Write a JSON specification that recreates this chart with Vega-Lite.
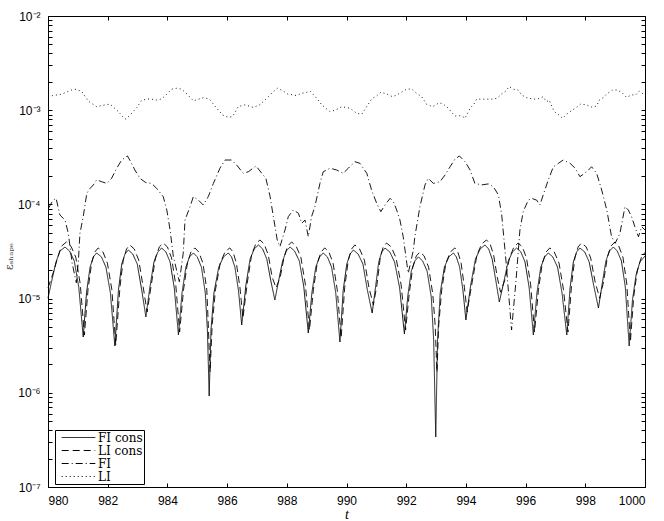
{
  "$schema": "https://vega.github.io/schema/vega-lite/v6.json",
  "width": 597,
  "height": 471,
  "autosize": {"type": "none"},
  "padding": {"left": 48, "top": 16, "right": 19, "bottom": 34},
  "background": "white",
  "config": {
    "view": {"stroke": null},
    "axis": {
      "domainColor": "black", "domainWidth": 1, "tickColor": "black", "tickWidth": 1,
      "grid": false, "labelFont": "Liberation Sans", "labelFontSize": 12, "labelColor": "black",
      "tickSize": -4
    }
  },
  "datasets": {
    "ficons": [
      {"t":980.0,"v":1.01e-5},{"t":980.13,"v":1.57e-5},{"t":980.27,"v":2.45e-5},{"t":980.40,"v":3.20e-5},{"t":980.57,"v":3.53e-5},{"t":980.72,"v":3.20e-5},{"t":980.88,"v":2.51e-5},{"t":981.03,"v":1.33e-5},{"t":981.18,"v":3.91e-6},{"t":981.29,"v":1.15e-5},{"t":981.41,"v":2.16e-5},{"t":981.52,"v":2.77e-5},{"t":981.63,"v":3.05e-5},{"t":981.79,"v":2.77e-5},{"t":981.94,"v":2.16e-5},{"t":982.09,"v":1.15e-5},{"t":982.24,"v":3.14e-6},{"t":982.36,"v":1.23e-5},{"t":982.47,"v":2.33e-5},{"t":982.58,"v":2.97e-5},{"t":982.69,"v":3.28e-5},{"t":982.84,"v":2.97e-5},{"t":982.99,"v":2.33e-5},{"t":983.14,"v":1.23e-5},{"t":983.28,"v":6.38e-6},{"t":983.41,"v":1.30e-5},{"t":983.55,"v":2.45e-5},{"t":983.68,"v":3.13e-5},{"t":983.81,"v":3.44e-5},{"t":983.95,"v":3.13e-5},{"t":984.09,"v":2.45e-5},{"t":984.23,"v":1.30e-5},{"t":984.37,"v":4.11e-6},{"t":984.49,"v":1.15e-5},{"t":984.62,"v":2.16e-5},{"t":984.74,"v":2.77e-5},{"t":984.87,"v":3.05e-5},{"t":985.00,"v":2.77e-5},{"t":985.14,"v":2.16e-5},{"t":985.27,"v":1.15e-5},{"t":985.34,"v":4.64e-6},{"t":985.40,"v":9.25e-7},{"t":985.46,"v":4.64e-6},{"t":985.56,"v":1.15e-5},{"t":985.72,"v":2.16e-5},{"t":985.88,"v":2.77e-5},{"t":986.04,"v":3.05e-5},{"t":986.15,"v":2.77e-5},{"t":986.26,"v":2.16e-5},{"t":986.38,"v":1.23e-5},{"t":986.49,"v":5.25e-6},{"t":986.63,"v":1.39e-5},{"t":986.77,"v":2.63e-5},{"t":986.91,"v":3.37e-5},{"t":987.05,"v":3.71e-5},{"t":987.19,"v":3.37e-5},{"t":987.33,"v":2.63e-5},{"t":987.46,"v":1.57e-5},{"t":987.60,"v":9.66e-6},{"t":987.73,"v":1.57e-5},{"t":987.86,"v":2.51e-5},{"t":987.98,"v":3.20e-5},{"t":988.11,"v":3.53e-5},{"t":988.26,"v":3.20e-5},{"t":988.42,"v":2.51e-5},{"t":988.57,"v":1.33e-5},{"t":988.72,"v":4.32e-6},{"t":988.84,"v":1.15e-5},{"t":988.97,"v":2.16e-5},{"t":989.10,"v":2.77e-5},{"t":989.22,"v":3.05e-5},{"t":989.36,"v":2.77e-5},{"t":989.50,"v":2.16e-5},{"t":989.64,"v":1.15e-5},{"t":989.78,"v":3.46e-6},{"t":989.89,"v":1.23e-5},{"t":990.01,"v":2.33e-5},{"t":990.12,"v":2.97e-5},{"t":990.23,"v":3.28e-5},{"t":990.39,"v":2.97e-5},{"t":990.55,"v":2.33e-5},{"t":990.70,"v":1.23e-5},{"t":990.86,"v":7.03e-6},{"t":990.97,"v":1.30e-5},{"t":991.08,"v":2.45e-5},{"t":991.18,"v":3.13e-5},{"t":991.29,"v":3.44e-5},{"t":991.45,"v":3.13e-5},{"t":991.61,"v":2.45e-5},{"t":991.78,"v":1.30e-5},{"t":991.94,"v":4.21e-6},{"t":992.05,"v":1.04e-5},{"t":992.17,"v":1.96e-5},{"t":992.29,"v":2.51e-5},{"t":992.41,"v":2.77e-5},{"t":992.55,"v":2.51e-5},{"t":992.70,"v":1.96e-5},{"t":992.84,"v":1.04e-5},{"t":992.92,"v":3.64e-6},{"t":992.99,"v":3.40e-7},{"t":993.05,"v":3.64e-6},{"t":993.14,"v":1.15e-5},{"t":993.28,"v":2.16e-5},{"t":993.43,"v":2.77e-5},{"t":993.58,"v":3.05e-5},{"t":993.68,"v":2.77e-5},{"t":993.79,"v":2.16e-5},{"t":993.90,"v":1.23e-5},{"t":994.00,"v":5.93e-6},{"t":994.16,"v":1.39e-5},{"t":994.32,"v":2.63e-5},{"t":994.48,"v":3.37e-5},{"t":994.64,"v":3.71e-5},{"t":994.76,"v":3.37e-5},{"t":994.88,"v":2.63e-5},{"t":995.00,"v":1.57e-5},{"t":995.12,"v":9.20e-6},{"t":995.27,"v":1.50e-5},{"t":995.41,"v":2.45e-5},{"t":995.56,"v":3.13e-5},{"t":995.70,"v":3.44e-5},{"t":995.84,"v":3.13e-5},{"t":995.98,"v":2.45e-5},{"t":996.12,"v":1.30e-5},{"t":996.26,"v":4.11e-6},{"t":996.38,"v":1.15e-5},{"t":996.51,"v":2.16e-5},{"t":996.64,"v":2.77e-5},{"t":996.76,"v":3.05e-5},{"t":996.91,"v":2.77e-5},{"t":997.07,"v":2.16e-5},{"t":997.22,"v":1.15e-5},{"t":997.38,"v":4.11e-6},{"t":997.49,"v":1.30e-5},{"t":997.60,"v":2.45e-5},{"t":997.71,"v":3.13e-5},{"t":997.82,"v":3.44e-5},{"t":997.98,"v":3.13e-5},{"t":998.13,"v":2.45e-5},{"t":998.28,"v":1.39e-5},{"t":998.44,"v":7.94e-6},{"t":998.56,"v":1.39e-5},{"t":998.69,"v":2.51e-5},{"t":998.81,"v":3.20e-5},{"t":998.94,"v":3.53e-5},{"t":999.07,"v":3.20e-5},{"t":999.21,"v":2.51e-5},{"t":999.34,"v":1.33e-5},{"t":999.47,"v":3.14e-6},{"t":999.58,"v":9.66e-6},{"t":999.70,"v":1.78e-5},{"t":999.83,"v":2.45e-5},{"t":1000.0,"v":2.83e-5}
    ],
    "licons": [
      {"t":980.0,"v":1.30e-5},{"t":980.18,"v":1.9e-5},{"t":980.32,"v":2.7e-5},{"t":980.45,"v":3.6e-5},{"t":980.62,"v":4.0e-5},{"t":980.77,"v":3.6e-5},{"t":980.93,"v":2.76e-5},{"t":981.08,"v":1.43e-5},{"t":981.22,"v":4.1e-6},{"t":981.34,"v":1.24e-5},{"t":981.46,"v":2.38e-5},{"t":981.57,"v":3.13e-5},{"t":981.68,"v":3.45e-5},{"t":981.84,"v":3.13e-5},{"t":981.99,"v":2.38e-5},{"t":982.14,"v":1.24e-5},{"t":982.27,"v":3.21e-6},{"t":982.41,"v":1.32e-5},{"t":982.52,"v":2.56e-5},{"t":982.63,"v":3.36e-5},{"t":982.74,"v":3.71e-5},{"t":982.89,"v":3.36e-5},{"t":983.04,"v":2.56e-5},{"t":983.19,"v":1.32e-5},{"t":983.32,"v":7.2e-6},{"t":983.46,"v":1.40e-5},{"t":983.60,"v":2.70e-5},{"t":983.73,"v":3.54e-5},{"t":983.86,"v":3.89e-5},{"t":984.00,"v":3.54e-5},{"t":984.14,"v":2.70e-5},{"t":984.28,"v":1.40e-5},{"t":984.41,"v":4.42e-6},{"t":984.54,"v":1.24e-5},{"t":984.67,"v":2.38e-5},{"t":984.79,"v":3.13e-5},{"t":984.92,"v":3.45e-5},{"t":985.05,"v":3.13e-5},{"t":985.19,"v":2.38e-5},{"t":985.32,"v":1.24e-5},{"t":985.37,"v":5.25e-6},{"t":985.43,"v":1.66e-6},{"t":985.50,"v":5.25e-6},{"t":985.61,"v":1.24e-5},{"t":985.77,"v":2.38e-5},{"t":985.93,"v":3.13e-5},{"t":986.09,"v":3.45e-5},{"t":986.20,"v":3.13e-5},{"t":986.31,"v":2.38e-5},{"t":986.43,"v":1.32e-5},{"t":986.53,"v":6.22e-6},{"t":986.68,"v":1.50e-5},{"t":986.82,"v":2.90e-5},{"t":986.96,"v":3.81e-5},{"t":987.10,"v":4.19e-5},{"t":987.24,"v":3.81e-5},{"t":987.38,"v":2.90e-5},{"t":987.51,"v":1.69e-5},{"t":987.64,"v":1.30e-5},{"t":987.78,"v":1.69e-5},{"t":987.91,"v":2.76e-5},{"t":988.03,"v":3.62e-5},{"t":988.16,"v":3.99e-5},{"t":988.31,"v":3.62e-5},{"t":988.47,"v":2.76e-5},{"t":988.62,"v":1.43e-5},{"t":988.76,"v":4.64e-6},{"t":988.89,"v":1.24e-5},{"t":989.02,"v":2.38e-5},{"t":989.15,"v":3.13e-5},{"t":989.27,"v":3.45e-5},{"t":989.41,"v":3.13e-5},{"t":989.55,"v":2.38e-5},{"t":989.69,"v":1.24e-5},{"t":989.82,"v":3.82e-6},{"t":989.94,"v":1.32e-5},{"t":990.06,"v":2.56e-5},{"t":990.17,"v":3.36e-5},{"t":990.28,"v":3.71e-5},{"t":990.44,"v":3.36e-5},{"t":990.60,"v":2.56e-5},{"t":990.75,"v":1.32e-5},{"t":990.90,"v":8.55e-6},{"t":991.02,"v":1.40e-5},{"t":991.13,"v":2.70e-5},{"t":991.23,"v":3.54e-5},{"t":991.34,"v":3.89e-5},{"t":991.50,"v":3.54e-5},{"t":991.66,"v":2.70e-5},{"t":991.83,"v":1.40e-5},{"t":991.98,"v":4.64e-6},{"t":992.10,"v":1.12e-5},{"t":992.22,"v":2.16e-5},{"t":992.34,"v":2.84e-5},{"t":992.46,"v":3.13e-5},{"t":992.60,"v":2.84e-5},{"t":992.75,"v":2.16e-5},{"t":992.89,"v":1.12e-5},{"t":992.97,"v":5.25e-6},{"t":993.03,"v":1.66e-6},{"t":993.09,"v":5.25e-6},{"t":993.19,"v":1.24e-5},{"t":993.33,"v":2.38e-5},{"t":993.48,"v":3.13e-5},{"t":993.63,"v":3.45e-5},{"t":993.73,"v":3.13e-5},{"t":993.84,"v":2.38e-5},{"t":993.95,"v":1.32e-5},{"t":994.04,"v":7.2e-6},{"t":994.21,"v":1.50e-5},{"t":994.37,"v":2.90e-5},{"t":994.53,"v":3.81e-5},{"t":994.69,"v":4.19e-5},{"t":994.81,"v":3.81e-5},{"t":994.93,"v":2.90e-5},{"t":995.05,"v":1.69e-5},{"t":995.16,"v":1.17e-5},{"t":995.32,"v":1.62e-5},{"t":995.46,"v":2.70e-5},{"t":995.61,"v":3.54e-5},{"t":995.75,"v":3.89e-5},{"t":995.89,"v":3.54e-5},{"t":996.03,"v":2.70e-5},{"t":996.17,"v":1.40e-5},{"t":996.30,"v":4.42e-6},{"t":996.43,"v":1.24e-5},{"t":996.56,"v":2.38e-5},{"t":996.69,"v":3.13e-5},{"t":996.81,"v":3.45e-5},{"t":996.96,"v":3.13e-5},{"t":997.12,"v":2.38e-5},{"t":997.27,"v":1.24e-5},{"t":997.42,"v":4.42e-6},{"t":997.54,"v":1.40e-5},{"t":997.65,"v":2.70e-5},{"t":997.76,"v":3.54e-5},{"t":997.87,"v":3.89e-5},{"t":998.03,"v":3.54e-5},{"t":998.18,"v":2.70e-5},{"t":998.33,"v":1.50e-5},{"t":998.48,"v":1.01e-5},{"t":998.61,"v":1.50e-5},{"t":998.74,"v":2.76e-5},{"t":998.86,"v":3.62e-5},{"t":998.99,"v":3.99e-5},{"t":999.12,"v":3.62e-5},{"t":999.26,"v":2.76e-5},{"t":999.39,"v":1.43e-5},{"t":999.51,"v":3.46e-6},{"t":999.62,"v":1.04e-5},{"t":999.74,"v":1.96e-5},{"t":999.87,"v":2.70e-5},{"t":1000.0,"v":3.1e-5}
    ],
    "fi": [
      {"t":980.02,"v":9.16e-5},{"t":980.17,"v":1.11e-4},{"t":980.27,"v":1.16e-4},{"t":980.40,"v":7.71e-5},{"t":980.57,"v":6.83e-5},{"t":980.68,"v":4.93e-5},{"t":980.81,"v":2.37e-5},{"t":980.95,"v":1.47e-5},{"t":981.02,"v":2.57e-5},{"t":981.07,"v":4.93e-5},{"t":981.18,"v":7.41e-5},{"t":981.30,"v":1.31e-4},{"t":981.41,"v":1.48e-4},{"t":981.52,"v":1.61e-4},{"t":981.63,"v":1.82e-4},{"t":981.80,"v":1.74e-4},{"t":981.97,"v":1.67e-4},{"t":982.13,"v":1.89e-4},{"t":982.30,"v":2.42e-4},{"t":982.47,"v":2.96e-4},{"t":982.66,"v":3.27e-4},{"t":982.77,"v":2.84e-4},{"t":982.91,"v":2.32e-4},{"t":983.08,"v":1.89e-4},{"t":983.28,"v":1.70e-4},{"t":983.47,"v":1.67e-4},{"t":983.64,"v":1.48e-4},{"t":983.86,"v":1.21e-4},{"t":983.98,"v":8.73e-5},{"t":984.09,"v":5.35e-5},{"t":984.20,"v":2.79e-5},{"t":984.40,"v":1.51e-5},{"t":984.53,"v":3.03e-5},{"t":984.59,"v":6.83e-5},{"t":984.76,"v":9.46e-5},{"t":984.87,"v":1.21e-4},{"t":985.04,"v":1.11e-4},{"t":985.20,"v":9.86e-5},{"t":985.37,"v":1.21e-4},{"t":985.54,"v":1.67e-4},{"t":985.76,"v":2.42e-4},{"t":985.93,"v":2.96e-4},{"t":986.15,"v":2.96e-4},{"t":986.32,"v":2.62e-4},{"t":986.54,"v":2.14e-4},{"t":986.71,"v":2.22e-4},{"t":986.97,"v":2.56e-4},{"t":987.16,"v":2.14e-4},{"t":987.30,"v":1.89e-4},{"t":987.44,"v":1.21e-4},{"t":987.55,"v":7.41e-5},{"t":987.68,"v":4.19e-5},{"t":987.77,"v":3.56e-5},{"t":987.94,"v":5.35e-5},{"t":988.05,"v":7.41e-5},{"t":988.22,"v":8.73e-5},{"t":988.39,"v":8.05e-5},{"t":988.50,"v":6.30e-5},{"t":988.61,"v":6.83e-5},{"t":988.72,"v":4.54e-5},{"t":988.83,"v":7.41e-5},{"t":988.94,"v":9.46e-5},{"t":989.11,"v":1.67e-4},{"t":989.22,"v":2.22e-4},{"t":989.45,"v":2.42e-4},{"t":989.67,"v":2.32e-4},{"t":989.89,"v":2.14e-4},{"t":990.06,"v":2.42e-4},{"t":990.28,"v":2.84e-4},{"t":990.45,"v":2.73e-4},{"t":990.68,"v":2.14e-4},{"t":990.84,"v":1.42e-4},{"t":991.01,"v":1.03e-4},{"t":991.15,"v":8.38e-5},{"t":991.29,"v":9.86e-5},{"t":991.46,"v":1.16e-4},{"t":991.57,"v":1.07e-4},{"t":991.68,"v":8.73e-5},{"t":991.79,"v":6.83e-5},{"t":991.90,"v":4.54e-5},{"t":992.02,"v":2.37e-5},{"t":992.07,"v":1.86e-5},{"t":992.24,"v":3.28e-5},{"t":992.29,"v":4.54e-5},{"t":992.46,"v":9.46e-5},{"t":992.63,"v":1.61e-4},{"t":992.74,"v":1.89e-4},{"t":992.91,"v":1.67e-4},{"t":993.13,"v":1.74e-4},{"t":993.30,"v":2.05e-4},{"t":993.47,"v":2.51e-4},{"t":993.63,"v":3.01e-4},{"t":993.78,"v":3.27e-4},{"t":993.97,"v":2.84e-4},{"t":994.14,"v":2.32e-4},{"t":994.30,"v":1.67e-4},{"t":994.53,"v":1.61e-4},{"t":994.75,"v":1.65e-4},{"t":994.92,"v":1.54e-4},{"t":995.09,"v":1.26e-4},{"t":995.20,"v":7.71e-5},{"t":995.34,"v":2.57e-5},{"t":995.53,"v":4.64e-6},{"t":995.68,"v":1.57e-5},{"t":995.81,"v":5.35e-5},{"t":995.92,"v":8.38e-5},{"t":996.09,"v":1.11e-4},{"t":996.20,"v":1.16e-4},{"t":996.37,"v":1.11e-4},{"t":996.48,"v":9.86e-5},{"t":996.59,"v":1.26e-4},{"t":996.76,"v":1.82e-4},{"t":996.93,"v":2.51e-4},{"t":997.10,"v":2.73e-4},{"t":997.26,"v":2.96e-4},{"t":997.49,"v":2.73e-4},{"t":997.66,"v":2.42e-4},{"t":997.82,"v":1.97e-4},{"t":998.05,"v":2.22e-4},{"t":998.21,"v":2.51e-4},{"t":998.38,"v":2.14e-4},{"t":998.55,"v":1.42e-4},{"t":998.72,"v":8.73e-5},{"t":998.88,"v":4.54e-5},{"t":999.00,"v":3.86e-5},{"t":999.16,"v":4.93e-5},{"t":999.33,"v":9.46e-5},{"t":999.44,"v":8.73e-5},{"t":999.55,"v":7.41e-5},{"t":999.66,"v":5.79e-5},{"t":999.78,"v":4.54e-5},{"t":999.89,"v":5.79e-5},{"t":1000.0,"v":5.35e-5}
    ],
    "li": [
      {"t":980.0,"v":1.40e-3},{"t":980.16,"v":1.43e-3},{"t":980.46,"v":1.48e-3},{"t":980.79,"v":1.64e-3},{"t":980.94,"v":1.67e-3},{"t":981.13,"v":1.58e-3},{"t":981.35,"v":1.25e-3},{"t":981.63,"v":1.09e-3},{"t":981.91,"v":1.14e-3},{"t":982.08,"v":1.16e-3},{"t":982.36,"v":9.64e-4},{"t":982.58,"v":8.0e-4},{"t":982.72,"v":8.67e-4},{"t":982.97,"v":1.06e-3},{"t":983.14,"v":1.28e-3},{"t":983.42,"v":1.32e-3},{"t":983.64,"v":1.28e-3},{"t":983.81,"v":1.32e-3},{"t":983.95,"v":1.45e-3},{"t":984.14,"v":1.67e-3},{"t":984.31,"v":1.71e-3},{"t":984.48,"v":1.67e-3},{"t":984.65,"v":1.49e-3},{"t":984.87,"v":1.26e-3},{"t":985.21,"v":1.36e-3},{"t":985.41,"v":1.31e-3},{"t":985.65,"v":1.05e-3},{"t":985.85,"v":8.89e-4},{"t":986.04,"v":8.41e-4},{"t":986.18,"v":8.53e-4},{"t":986.37,"v":1.09e-3},{"t":986.60,"v":1.14e-3},{"t":986.88,"v":1.07e-3},{"t":987.10,"v":1.14e-3},{"t":987.38,"v":1.39e-3},{"t":987.55,"v":1.57e-3},{"t":987.68,"v":1.71e-3},{"t":987.86,"v":1.61e-3},{"t":988.02,"v":1.49e-3},{"t":988.33,"v":1.43e-3},{"t":988.50,"v":1.51e-3},{"t":988.67,"v":1.55e-3},{"t":988.78,"v":1.60e-3},{"t":989.00,"v":1.34e-3},{"t":989.17,"v":1.14e-3},{"t":989.45,"v":9.64e-4},{"t":989.62,"v":1.00e-3},{"t":989.84,"v":1.09e-3},{"t":990.12,"v":1.05e-3},{"t":990.34,"v":9.27e-4},{"t":990.51,"v":9.04e-4},{"t":990.73,"v":1.16e-3},{"t":990.84,"v":1.31e-3},{"t":991.01,"v":1.42e-3},{"t":991.15,"v":1.55e-3},{"t":991.34,"v":1.49e-3},{"t":991.54,"v":1.39e-3},{"t":991.68,"v":1.45e-3},{"t":991.84,"v":1.55e-3},{"t":992.01,"v":1.67e-3},{"t":992.18,"v":1.68e-3},{"t":992.35,"v":1.51e-3},{"t":992.52,"v":1.39e-3},{"t":992.68,"v":1.16e-3},{"t":992.88,"v":1.09e-3},{"t":993.11,"v":1.20e-3},{"t":993.24,"v":1.16e-3},{"t":993.41,"v":1.05e-3},{"t":993.63,"v":8.67e-4},{"t":993.86,"v":8.75e-4},{"t":993.97,"v":8.20e-4},{"t":994.14,"v":1.05e-3},{"t":994.27,"v":1.16e-3},{"t":994.36,"v":1.31e-3},{"t":994.58,"v":1.31e-3},{"t":994.86,"v":1.31e-3},{"t":995.05,"v":1.34e-3},{"t":995.20,"v":1.49e-3},{"t":995.34,"v":1.60e-3},{"t":995.45,"v":1.78e-3},{"t":995.59,"v":1.67e-3},{"t":995.75,"v":1.64e-3},{"t":995.87,"v":1.45e-3},{"t":996.03,"v":1.36e-3},{"t":996.26,"v":1.31e-3},{"t":996.42,"v":1.32e-3},{"t":996.59,"v":1.39e-3},{"t":996.70,"v":1.23e-3},{"t":996.79,"v":1.28e-3},{"t":996.96,"v":9.64e-4},{"t":997.09,"v":9.04e-4},{"t":997.24,"v":8.20e-4},{"t":997.37,"v":9.04e-4},{"t":997.52,"v":9.82e-4},{"t":997.69,"v":1.06e-3},{"t":997.84,"v":1.16e-3},{"t":998.04,"v":1.14e-3},{"t":998.24,"v":1.07e-3},{"t":998.38,"v":1.11e-3},{"t":998.47,"v":1.28e-3},{"t":998.60,"v":1.36e-3},{"t":998.72,"v":1.49e-3},{"t":998.92,"v":1.64e-3},{"t":999.05,"v":1.64e-3},{"t":999.22,"v":1.55e-3},{"t":999.38,"v":1.37e-3},{"t":999.55,"v":1.45e-3},{"t":999.70,"v":1.46e-3},{"t":999.81,"v":1.60e-3},{"t":999.95,"v":1.48e-3}
    ]
  },
  "encoding": {
    "x": {"field": "t", "type": "quantitative", "scale": {"domain": [980, 1000], "nice": false, "zero": false}, "axis": null},
    "y": {"field": "v", "type": "quantitative", "scale": {"type": "log", "domain": [1e-7, 1e-2], "nice": false}, "axis": null}
  },
  "layer": [
    {
      "data": {"name": "ficons"},
      "mark": {"type": "line", "color": "black", "strokeWidth": 0.9},
      "encoding": {
        "x": {"field": "t", "type": "quantitative", "scale": {"domain": [980, 1000], "nice": false, "zero": false},
          "axis": {"orient": "bottom", "values": [980,982,984,986,988,990,992,994,996,998,1000], "format": "d", "labelPadding": 12, "title": "t", "titleFont": "Liberation Serif", "titleFontStyle": "italic", "titleFontWeight": "normal", "titleFontSize": 14, "titlePadding": 1}},
        "y": {"field": "v", "type": "quantitative", "scale": {"type": "log", "domain": [1e-7, 1e-2], "nice": false},
          "axis": {"orient": "left", "values": [1e-7,2e-7,3e-7,4e-7,5e-7,6e-7,7e-7,8e-7,9e-7,1e-6,2e-6,3e-6,4e-6,5e-6,6e-6,7e-6,8e-6,9e-6,1e-5,2e-5,3e-5,4e-5,5e-5,6e-5,7e-5,8e-5,9e-5,1e-4,2e-4,3e-4,4e-4,5e-4,6e-4,7e-4,8e-4,9e-4,1e-3,2e-3,3e-3,4e-3,5e-3,6e-3,7e-3,8e-3,9e-3,1e-2],
            "labelExpr": "datum.value==1e-7?'10⁻⁷':datum.value==1e-6?'10⁻⁶':datum.value==1e-5?'10⁻⁵':datum.value==1e-4?'10⁻⁴':datum.value==1e-3?'10⁻³':datum.value==1e-2?'10⁻²':''",
            "labelPadding": 12, "labelFlush": false, "labelOverlap": false,
            "title": "εₛₕₐₚₑ", "titleFont": "DejaVu Serif", "titleFontWeight": "normal", "titleFontSize": 11, "titleColor": "#444", "titleX": -34, "titleY": 240}},
        "strokeDash": {"datum": "FI cons", "type": "nominal",
          "scale": {"domain": ["FI cons", "LI cons", "FI", "LI"], "range": [[1, 0], [7, 4], [7, 3, 1, 3], [1, 3]]},
          "legend": {"orient": "none", "legendX": 7, "legendY": 414, "title": null, "strokeColor": "black", "fillColor": "white", "padding": 1, "rowPadding": 0, "symbolType": "M-2.8,0H2.8", "symbolFillColor": "transparent", "symbolStrokeColor": "black", "symbolStrokeWidth": 1, "symbolSize": 144, "symbolOffset": 16, "labelFont": "DejaVu Serif", "labelFontSize": 12, "labelColor": "black", "labelOffset": 13}}
      }
    },
    {
      "data": {"name": "licons"},
      "mark": {"type": "line", "color": "black", "strokeWidth": 0.9},
      "encoding": {"strokeDash": {"datum": "LI cons", "type": "nominal"}}
    },
    {
      "data": {"name": "fi"},
      "mark": {"type": "line", "color": "black", "strokeWidth": 0.9},
      "encoding": {"strokeDash": {"datum": "FI", "type": "nominal"}}
    },
    {
      "data": {"name": "li"},
      "mark": {"type": "line", "color": "black", "strokeWidth": 0.9},
      "encoding": {"strokeDash": {"datum": "LI", "type": "nominal"}}
    },
    {
      "data": {"name": "li"},
      "mark": {"type": "line", "opacity": 0},
      "encoding": {
        "x": {"field": "t", "type": "quantitative", "scale": {"domain": [980, 1000], "nice": false, "zero": false},
          "axis": {"orient": "top", "values": [980,982,984,986,988,990,992,994,996,998,1000], "labels": false, "title": null}},
        "y": {"field": "v", "type": "quantitative", "scale": {"type": "log", "domain": [1e-7, 1e-2], "nice": false},
          "axis": {"orient": "right", "values": [1e-7,2e-7,3e-7,4e-7,5e-7,6e-7,7e-7,8e-7,9e-7,1e-6,2e-6,3e-6,4e-6,5e-6,6e-6,7e-6,8e-6,9e-6,1e-5,2e-5,3e-5,4e-5,5e-5,6e-5,7e-5,8e-5,9e-5,1e-4,2e-4,3e-4,4e-4,5e-4,6e-4,7e-4,8e-4,9e-4,1e-3,2e-3,3e-3,4e-3,5e-3,6e-3,7e-3,8e-3,9e-3,1e-2], "labels": false, "title": null}}
      }
    }
  ],
  "resolve": {"axis": {"x": "independent", "y": "independent"}}
}
